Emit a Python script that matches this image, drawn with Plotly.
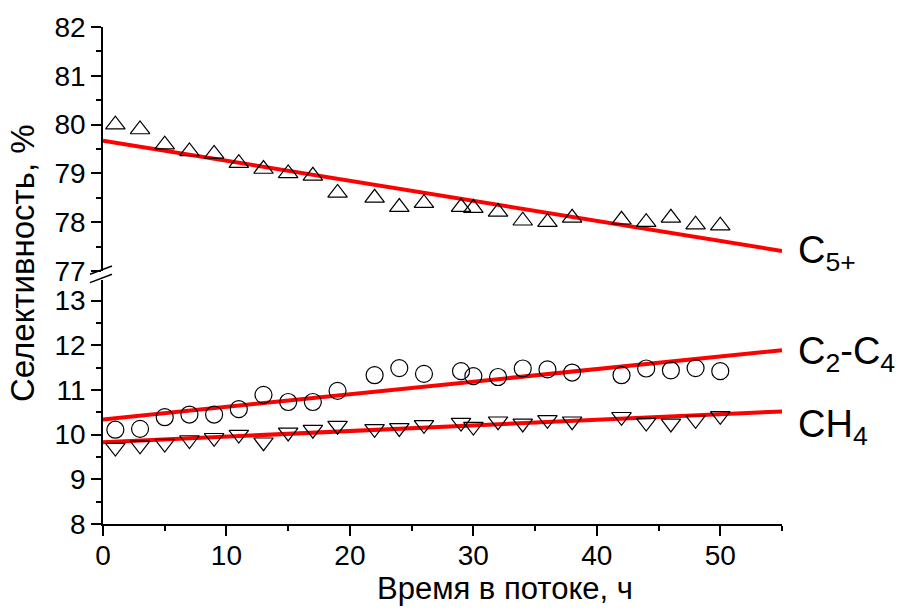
import plotly.graph_objects as go

# Time on stream, h
hours = [1, 3, 5, 7, 9, 11, 13, 15, 17, 19, 22, 24, 26, 29, 30, 32, 34, 36, 38, 42, 44, 46, 48, 50]

# Selectivity, %
sel_c5 = [80.00, 79.90, 79.59, 79.45, 79.40, 79.21, 79.09, 79.00, 78.95, 78.60, 78.50, 78.31,
          78.39, 78.31, 78.29, 78.21, 78.03, 78.00, 78.09, 78.05, 78.00, 78.09, 77.95, 77.93]
sel_c2c4 = [10.11, 10.13, 10.39, 10.45, 10.45, 10.57, 10.89, 10.73, 10.73, 10.98, 11.33, 11.49,
            11.36, 11.42, 11.31, 11.29, 11.48, 11.46, 11.39, 11.33, 11.48, 11.44, 11.49, 11.42]
sel_ch4 = [9.71, 9.76, 9.80, 9.88, 9.93, 10.00, 9.83, 10.05, 10.11, 10.20, 10.13, 10.15,
           10.22, 10.27, 10.18, 10.30, 10.25, 10.33, 10.30, 10.40, 10.27, 10.25, 10.33, 10.42]

# Linear trend lines (end points)
fit_x = [0, 55]
fit_c5 = [79.67, 77.41]
fit_c2c4 = [10.34, 11.89]
fit_ch4 = [9.83, 10.52]

FONT = "Liberation Sans, Arial, sans-serif"
RED = "#ff0000"

fig = go.Figure()

marker_line = dict(color="black", width=1.2)

# Upper panel: C5+
fig.add_trace(go.Scatter(x=fit_x, y=fit_c5, mode="lines", line=dict(color=RED, width=4),
                         xaxis="x2", yaxis="y2", showlegend=False))
fig.add_trace(go.Scatter(x=hours, y=sel_c5, mode="markers",
                         marker=dict(symbol="triangle-up-open", size=17, color="black", line=marker_line),
                         xaxis="x2", yaxis="y2", showlegend=False))

# Lower panel: C2-C4 and CH4
fig.add_trace(go.Scatter(x=fit_x, y=fit_c2c4, mode="lines", line=dict(color=RED, width=4),
                         xaxis="x", yaxis="y", showlegend=False))
fig.add_trace(go.Scatter(x=fit_x, y=fit_ch4, mode="lines", line=dict(color=RED, width=4),
                         xaxis="x", yaxis="y", showlegend=False))
fig.add_trace(go.Scatter(x=hours, y=sel_c2c4, mode="markers",
                         marker=dict(symbol="circle-open", size=17, color="black", line=marker_line),
                         xaxis="x", yaxis="y", showlegend=False))
fig.add_trace(go.Scatter(x=hours, y=sel_ch4, mode="markers",
                         marker=dict(symbol="triangle-down-open", size=17, color="black", line=marker_line),
                         xaxis="x", yaxis="y", showlegend=False))

axis_common = dict(
    showline=True, linecolor="black", linewidth=1.5,
    ticks="outside", ticklen=10, tickwidth=1.5, tickcolor="black",
    showgrid=False, zeroline=False,
    tickfont=dict(family=FONT, size=28, color="black"),
)

# Pixel geometry of the plot area
L, R, T, B = 103, 117, 25, 84
W, H = 899, 608
plot_h = H - T - B
plot_w = W - L - R

def py(p):
    return (H - B - p) / plot_h

def px(p):
    return (p - L) / plot_w

fig.update_layout(
    width=W, height=H, autosize=False,
    margin=dict(l=L, r=R, t=T, b=B),
    paper_bgcolor="white", plot_bgcolor="white",
    font=dict(family=FONT, color="black"),
    xaxis=dict(range=[0, 55], dtick=10, tick0=0, anchor="y", ticklabelstandoff=-4,
               minor=dict(dtick=5, ticks="outside", ticklen=5, tickwidth=1.5, tickcolor="black"),
               **axis_common),
    xaxis2=dict(range=[0, 55], matches="x", anchor="y2", visible=False),
    yaxis=dict(range=[8, 13.45], dtick=1, tick0=8, domain=[0, py(279.5)], anchor="x",
               minor=dict(dtick=0.5, ticks="outside", ticklen=5, tickwidth=1.5, tickcolor="black"),
               **axis_common),
    yaxis2=dict(range=[77, 82], dtick=1, tick0=77, domain=[py(270), 1], anchor="x2",
                minor=dict(dtick=0.5, ticks="outside", ticklen=5, tickwidth=1.5, tickcolor="black"),
                **axis_common),
)

# Axis break marks
for (y0, y1) in [(273.3, 265.0), (281.7, 273.3)]:
    fig.add_shape(type="line", xref="paper", yref="paper",
                  x0=px(90), x1=px(112), y0=py(y0), y1=py(y1),
                  line=dict(color="black", width=1.5))

# Axis titles
fig.add_annotation(text="Селективность, %", xref="paper", yref="paper",
                   x=px(22), y=py(262), textangle=-90, showarrow=False,
                   xanchor="center", yanchor="middle",
                   font=dict(family=FONT, size=33, color="black"))
fig.add_annotation(text="Время в потоке, ч", xref="paper", yref="paper",
                   x=px(505), y=py(589), showarrow=False,
                   xanchor="center", yanchor="middle",
                   font=dict(family=FONT, size=31, color="black"))

# Series labels
labels = [("C<sub>5+</sub>", 252), ("C<sub>2</sub>-C<sub>4</sub>", 353), ("CH<sub>4</sub>", 427)]
for text, ypix in labels:
    fig.add_annotation(text=text, xref="paper", yref="paper", x=px(796), y=py(ypix),
                       xanchor="left", yanchor="middle", showarrow=False,
                       font=dict(family=FONT, size=38, color="black"))

fig.write_html("out.html")
